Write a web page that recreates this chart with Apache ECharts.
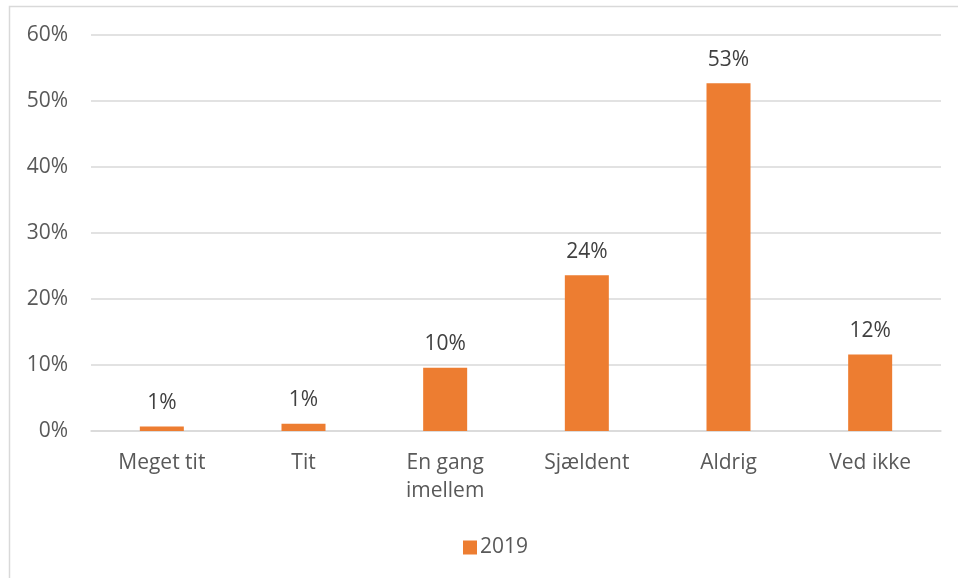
<!DOCTYPE html>
<html>
<head>
<meta charset="utf-8">
<script src="https://cdn.jsdelivr.net/npm/echarts@6/dist/echarts.min.js"></script>
<style>
  html, body { margin: 0; padding: 0; background: #ffffff; }
  #chart { width: 958px; height: 578px; }
</style>
</head>
<body>
<div id="chart"></div>
<script>
// Survey answer categories and the share of respondents (percent)
const categories = ['Meget tit', 'Tit', 'En gang\nimellem', 'Sjældent', 'Aldrig', 'Ved ikke'];
const seriesName = '2019';
const values2019 = [0.7, 1.1, 9.6, 23.6, 52.7, 11.6];
const yTicks = { min: 0, max: 60, interval: 10 };

const FONT = '"Open Sans", "Noto Sans", sans-serif';
const FS = 21;
const chart = echarts.init(document.getElementById('chart'), null, { renderer: 'canvas' });

chart.setOption({
  animation: false,
  backgroundColor: '#ffffff',
  textStyle: { fontFamily: FONT },
  graphic: [{
    type: 'rect',
    silent: true,
    shape: { x: 9.5, y: 6.5, width: 1000, height: 1000 },
    style: { fill: 'none', stroke: '#d9d9d9', lineWidth: 1.5 }
  }],
  grid: { left: 91, right: 17, top: 35, bottom: 147, containLabel: false },
  legend: {
    data: [seriesName],
    left: 458,
    top: 532,
    itemWidth: 14,
    itemHeight: 14,
    itemGap: 6,
    icon: 'rect',
    textStyle: { fontFamily: FONT, fontSize: FS, color: '#595959', padding: [0, 0, 0, -2] }
  },
  xAxis: {
    type: 'category',
    data: categories,
    axisLine: { show: true, lineStyle: { color: '#d9d9d9', width: 1.5 } },
    axisTick: { show: false },
    axisLabel: {
      interval: 0,
      margin: 18,
      fontFamily: FONT,
      fontSize: FS,
      lineHeight: 28,
      color: '#595959'
    }
  },
  yAxis: {
    type: 'value',
    min: yTicks.min,
    max: yTicks.max,
    interval: yTicks.interval,
    axisLine: { show: false },
    axisTick: { show: false },
    splitLine: { lineStyle: { color: '#d9d9d9', width: 1.5 } },
    axisLabel: {
      margin: 23,
      fontFamily: FONT,
      fontSize: FS,
      color: '#595959',
      formatter: v => v + '%'
    }
  },
  series: [{
    name: seriesName,
    type: 'bar',
    data: values2019,
    barWidth: 44,
    itemStyle: { color: '#ED7D31' },
    label: {
      show: true,
      position: 'top',
      distance: 13,
      fontFamily: FONT,
      fontSize: FS,
      color: '#404040',
      formatter: p => Math.round(p.value) + '%'
    }
  }]
});
</script>
</body>
</html>
